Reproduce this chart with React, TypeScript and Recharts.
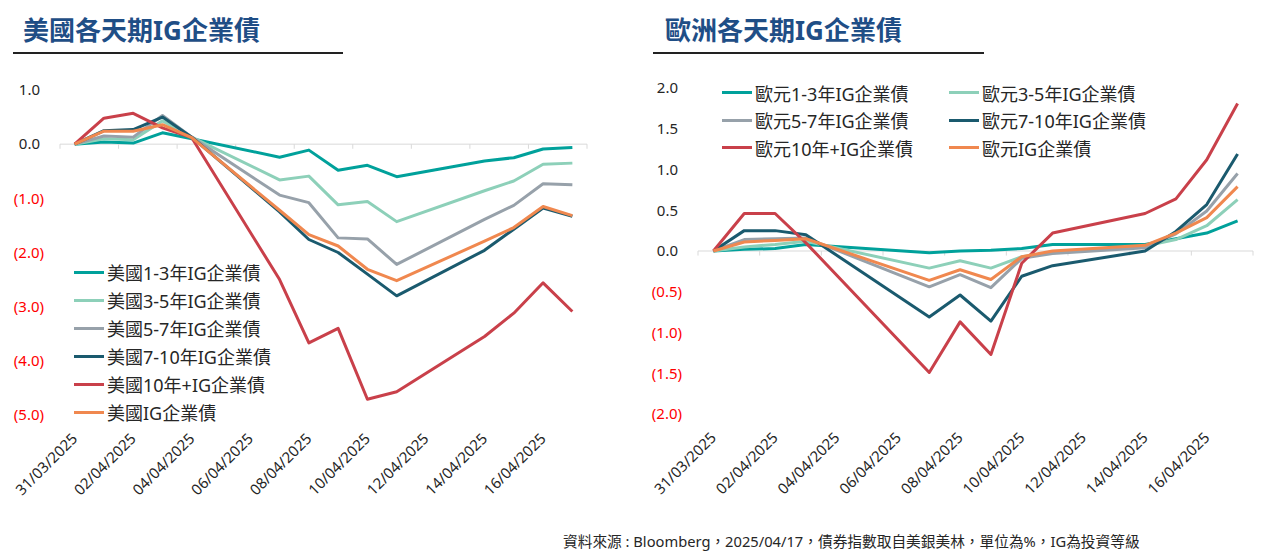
import React from "react";
import { Legend, Line, LineChart, ReferenceLine, XAxis, YAxis } from "recharts";

const FONT = "'Noto Sans', 'Noto Sans CJK TC', sans-serif";

// US series: one value per trading day
const usDates = [
  "31/03/2025", "01/04/2025", "02/04/2025", "03/04/2025", "04/04/2025",
  "07/04/2025", "08/04/2025", "09/04/2025", "10/04/2025", "11/04/2025",
  "14/04/2025", "15/04/2025", "16/04/2025", "17/04/2025",
];
const us13 = [0, 0.04, 0.02, 0.21, 0.1, -0.24, -0.11, -0.48, -0.39, -0.6, -0.31, -0.25, -0.09, -0.06];
const us35 = [0, 0.1, 0.08, 0.43, 0.13, -0.66, -0.59, -1.12, -1.06, -1.43, -0.86, -0.68, -0.37, -0.35];
const us57 = [0, 0.15, 0.13, 0.53, 0.13, -0.94, -1.08, -1.73, -1.75, -2.22, -1.39, -1.13, -0.73, -0.75];
const us710 = [0, 0.25, 0.27, 0.5, 0.13, -1.25, -1.76, -2.0, -2.4, -2.8, -1.96, -1.57, -1.18, -1.33];
const us10p = [0, 0.48, 0.57, 0.3, 0.12, -2.5, -3.67, -3.4, -4.71, -4.57, -3.55, -3.12, -2.56, -3.09];
const usIG = [0, 0.24, 0.24, 0.36, 0.12, -1.22, -1.67, -1.88, -2.31, -2.52, -1.79, -1.54, -1.15, -1.32];

// Europe series (no 04/04 point)
const euDates = [
  "31/03/2025", "01/04/2025", "02/04/2025", "03/04/2025",
  "07/04/2025", "08/04/2025", "09/04/2025", "10/04/2025", "11/04/2025",
  "14/04/2025", "15/04/2025", "16/04/2025", "17/04/2025",
];
const eu13 = [0, 0.02, 0.03, 0.08, -0.02, 0.0, 0.01, 0.03, 0.08, 0.08, 0.15, 0.22, 0.37];
const eu35 = [0, 0.05, 0.08, 0.12, -0.21, -0.12, -0.21, -0.07, -0.02, 0.06, 0.14, 0.31, 0.63];
const eu57 = [0, 0.14, 0.15, 0.16, -0.44, -0.29, -0.45, -0.09, -0.03, 0.04, 0.21, 0.49, 0.95];
const eu710 = [0, 0.25, 0.25, 0.2, -0.81, -0.54, -0.86, -0.31, -0.18, 0.0, 0.24, 0.57, 1.19];
const eu10p = [0, 0.46, 0.46, 0.1, -1.49, -0.87, -1.27, -0.15, 0.22, 0.46, 0.64, 1.12, 1.81];
const euIG = [0, 0.11, 0.13, 0.15, -0.36, -0.23, -0.35, -0.07, 0.0, 0.07, 0.22, 0.41, 0.79];

const usNames = ["美國1-3年IG企業債", "美國3-5年IG企業債", "美國5-7年IG企業債", "美國7-10年IG企業債", "美國10年+IG企業債", "美國IG企業債"];
const euNames = ["歐元1-3年IG企業債", "歐元3-5年IG企業債", "歐元5-7年IG企業債", "歐元7-10年IG企業債", "歐元10年+IG企業債", "歐元IG企業債"];
const colors = ["#00A19B", "#8DD0B9", "#97A1AA", "#1A5A6E", "#C9404A", "#F0884F"];

const xTickLabels = [
  "31/03/2025", "02/04/2025", "04/04/2025", "06/04/2025", "08/04/2025",
  "10/04/2025", "12/04/2025", "14/04/2025", "16/04/2025",
];
const axisTickDays = [0, 2, 4, 6, 8, 10, 12, 14, 16, 18];
const usYTicks = [1, 0, -1, -2, -3, -4, -5];
const euYTicks = [2, 1.5, 1, 0.5, 0, -0.5, -1, -1.5, -2];

// days since 31/03
const dayIndex = (label: string) => {
  const [d, m] = label.split("/").map(Number);
  return m === 3 ? d - 31 : d;
};

const buildRows = (dates: string[], series: number[][]) =>
  dates.map((date, i) => {
    const row: Record<string, number | string> = { date, day: dayIndex(date) + 0.5 };
    series.forEach((s, k) => (row[`s${k}`] = s[i]));
    return row;
  });

const usData = buildRows(usDates, [us13, us35, us57, us710, us10p, usIG]);
const euData = buildRows(euDates, [eu13, eu35, eu57, eu710, eu10p, euIG]);

const YTick = (props: any) => {
  const { x, y, payload } = props;
  const v = payload.value as number;
  const neg = v < 0;
  const label = neg ? `(${Math.abs(v).toFixed(1)})` : v.toFixed(1);
  return (
    <text
      x={neg ? x : x - 4}
      y={y}
      dy="0.35em"
      textAnchor="end"
      fontFamily={FONT}
      fontSize={15}
      fill={neg ? "#FF0000" : "#262626"}
    >
      {label}
    </text>
  );
};

const XTick = (props: any) => {
  const { x, y, payload } = props;
  const label = xTickLabels.find((l) => dayIndex(l) + 0.5 === payload.value);
  return (
    <g transform={`translate(${x},${y + 21})`}>
      <text textAnchor="end" dy="0.35em" transform="rotate(-45)" fontFamily={FONT} fontSize={15} fill="#262626">
        {label}
      </text>
    </g>
  );
};

// legend drawn in series order (Recharts would sort the payload by name)
const legendContent = (names: string[], cols: number, colWidth: number, rowHeight: number) => () => (
  <div
    style={{
      display: "grid",
      gridTemplateColumns: `repeat(${cols}, ${colWidth}px)`,
      fontFamily: FONT,
      fontSize: 18,
      color: "#262626",
    }}
  >
    {names.map((name, k) => (
      <div key={name} style={{ display: "flex", alignItems: "center", height: rowHeight, whiteSpace: "nowrap" }}>
        <span style={{ display: "inline-block", width: 30, height: 3, background: colors[k], marginRight: 3 }} />
        <span>{name}</span>
      </div>
    ))}
  </div>
);

type PanelProps = {
  data: Record<string, number | string>[];
  names: string[];
  width: number;
  margin: { top: number; right: number; bottom: number; left: number };
  yWidth: number;
  xHeight: number;
  domain: [number, number];
  yTicks: number[];
  tickLen: number;
  legendStyle: React.CSSProperties;
  legendCols: number;
  legendColWidth: number;
  legendRow: number;
};

function Panel(p: PanelProps) {
  return (
    <LineChart width={p.width} height={520} data={p.data} margin={p.margin}>
      <XAxis
        type="number"
        dataKey="day"
        domain={[0, 18]}
        ticks={xTickLabels.map((l) => dayIndex(l) + 0.5)}
        interval={0}
        axisLine={false}
        tickLine={false}
        tickSize={0}
        tickMargin={0}
        height={p.xHeight}
        tick={<XTick />}
      />
      <YAxis
        type="number"
        domain={p.domain}
        ticks={p.yTicks}
        interval={0}
        axisLine={false}
        tickLine={false}
        tickSize={0}
        tickMargin={16}
        width={p.yWidth}
        tick={<YTick />}
      />
      <ReferenceLine y={0} stroke="#D9D9D9" strokeWidth={1} />
      {axisTickDays.map((d) => (
        <ReferenceLine
          key={d}
          segment={[{ x: d, y: 0 }, { x: d, y: -p.tickLen }]}
          stroke="#D9D9D9"
          strokeWidth={1}
        />
      ))}
      {p.names.map((name, k) => (
        <Line
          key={name}
          type="linear"
          dataKey={`s${k}`}
          name={name}
          stroke={colors[k]}
          strokeWidth={3}
          strokeLinejoin="round"
          dot={false}
          activeDot={false}
          isAnimationActive={false}
        />
      ))}
      <Legend
        layout="vertical"
        align="center"
        verticalAlign="middle"
        content={legendContent(p.names, p.legendCols, p.legendColWidth, p.legendRow)}
        wrapperStyle={p.legendStyle}
      />
    </LineChart>
  );
}

const titleStyle: React.CSSProperties = {
  position: "absolute",
  top: 17,
  fontFamily: FONT,
  fontWeight: 700,
  fontSize: 26,
  lineHeight: "26px",
  color: "#1F4E86",
  whiteSpace: "nowrap",
};

const ruleStyle: React.CSSProperties = {
  position: "absolute",
  top: 52,
  height: 1.5,
  background: "#222",
};

export default function App() {
  return (
    <div style={{ position: "absolute", left: 0, top: 0, width: 1264, height: 553, background: "#fff", overflow: "hidden" }}>
      <div style={{ ...titleStyle, left: 23 }}>美國各天期IG企業債</div>
      <div style={{ ...ruleStyle, left: 13, width: 330 }} />
      <div style={{ ...titleStyle, left: 665 }}>歐洲各天期IG企業債</div>
      <div style={{ ...ruleStyle, left: 653, width: 331 }} />

      <div style={{ position: "absolute", left: 0, top: 0 }}>
        <Panel
          data={usData}
          names={usNames}
          width={600}
          margin={{ top: 90, right: 13, bottom: 0, left: 0 }}
          yWidth={60}
          xHeight={105}
          domain={[-5, 1]}
          yTicks={usYTicks}
          tickLen={0.085}
          legendStyle={{ left: 74, top: 258, width: 240, height: "auto" }}
          legendCols={1}
          legendColWidth={240}
          legendRow={28}
        />
      </div>

      <div style={{ position: "absolute", left: 640, top: 0 }}>
        <Panel
          data={euData}
          names={euNames}
          width={624}
          margin={{ top: 88, right: 11, bottom: 0, left: 0 }}
          yWidth={58}
          xHeight={106}
          domain={[-2, 2]}
          yTicks={euYTicks}
          tickLen={0.056}
          legendStyle={{ left: 82, top: 79, width: 460, height: "auto" }}
          legendCols={2}
          legendColWidth={227}
          legendRow={27.5}
        />
      </div>

      <div
        style={{
          position: "absolute",
          left: 563,
          top: 531,
          fontFamily: FONT,
          fontSize: 14.7,
          lineHeight: "20px",
          color: "#262626",
          whiteSpace: "nowrap",
        }}
      >
        資料來源 : Bloomberg，2025/04/17，債券指數取自美銀美林，單位為%，IG為投資等級
      </div>
    </div>
  );
}
